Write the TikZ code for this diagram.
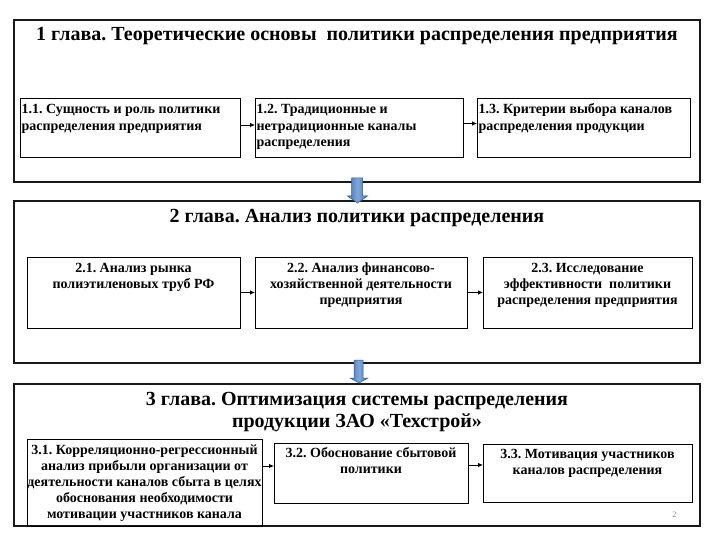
\documentclass[tikz,border=0pt]{standalone}
\usepackage{fontspec}
\setmainfont{Liberation Serif}
\usetikzlibrary{arrows.meta,calc}
\frenchspacing
\definecolor{arrblue}{HTML}{4375B6}
\definecolor{arrlight}{HTML}{7FA7DA}
\definecolor{arrdark}{HTML}{2F5A8E}
\newcommand\cbx[4]{\makebox[#1][c]{\parbox[c][#2][t]{\dimexpr#1+60pt\relax}{\centering\rule{0pt}{#3}#4}}}
\newcommand\lbx[4]{\makebox[#1][l]{\hspace{1.5pt}\parbox[c][#2][t]{\dimexpr#1+60pt\relax}{\raggedright\rule{0pt}{#3}#4}}}
\begin{document}
\begin{tikzpicture}[x=1pt,y=-1pt,
  chapbox/.style={draw=black!90, line width=1.1pt, inner sep=0pt, outer sep=0pt, anchor=north west,
    font=\fontsize{20}{22}\selectfont\bfseries},
  subbox/.style={draw=black, line width=0.9pt, inner sep=0pt, outer sep=0pt, anchor=north west,
    font=\fontsize{14}{16.3}\selectfont\bfseries},
  smallarr/.style={draw=black, line width=0.8pt, -{Latex[length=5pt,width=4.5pt]}},
  bigarr/.style={draw=arrdark, line width=0.5pt, left color=arrblue, right color=arrblue, middle color=arrlight},
  pagenum/.style={font=\fontsize{8.5}{10}\selectfont, text=black!45, inner sep=0pt}]
\useasboundingbox (0,0) rectangle (720,540);
% chapter 1
\node[chapbox] (c1) at (14,20) {\cbx{686pt}{162pt}{21pt}{1 глава. Теоретические основы\ \ политики распределения предприятия}};
\node[subbox] (s11) at (20,98) {\lbx{220pt}{59pt}{16pt}{1.1. Сущность и роль политики\\распределения предприятия}};
\node[subbox] (s12) at (255,98) {\lbx{208pt}{59pt}{16pt}{1.2. Традиционные и\\нетрадиционные каналы\\распределения}};
\node[subbox] (s13) at (477,98) {\lbx{213pt}{59pt}{16pt}{1.3. Критерии выбора каналов\\распределения продукции}};
% chapter 2
\node[chapbox] (c2) at (14,201) {\cbx{686pt}{162pt}{21pt}{2 глава. Анализ политики распределения}};
\node[subbox] (s21) at (27,257) {\cbx{213pt}{71pt}{15pt}{2.1. Анализ рынка\\полиэтиленовых труб РФ}};
\node[subbox] (s22) at (255,257) {\cbx{212pt}{71pt}{15pt}{2.2. Анализ финансово-\\хозяйственной деятельности\\предприятия}};
\node[subbox] (s23) at (483,257) {\cbx{209pt}{71pt}{15pt}{2.3. Исследование\\эффективности\ \ политики\\распределения предприятия}};
% chapter 3
\node[chapbox] (c3) at (14,384) {\cbx{686pt}{142pt}{21pt}{3 глава. Оптимизация системы распределения\\продукции ЗАО «Техстрой»}};
\node[subbox, font=\fontsize{14}{16}\selectfont\bfseries] (s31) at (27,439) {\cbx{235pt}{87pt}{15pt}{3.1. Корреляционно-регрессионный\\анализ прибыли организации от\\деятельности каналов сбыта в целях\\обоснования необходимости\\мотивации участников канала}};
\node[subbox] (s32) at (274,443) {\cbx{194pt}{60pt}{14pt}{3.2. Обоснование сбытовой\\политики}};
\node[subbox] (s33) at (483,444) {\cbx{209pt}{58pt}{14pt}{3.3. Мотивация участников\\каналов распределения}};
\node[pagenum, anchor=base] (pg) at (674.5,517) {2};
% small arrows
\draw[smallarr] ([yshift=2.5pt]s11.east) -- ([yshift=2.5pt]s12.west);
\draw[smallarr] ([yshift=4pt]s12.east) -- ([yshift=4pt]s13.west);
\draw[smallarr] (s21.east) -- (s22.west);
\draw[smallarr] (s22.east) -- (s23.west);
\draw[smallarr] ([yshift=7pt]s31.east |- s32.west) -- ([yshift=7pt]s32.west);
\draw[smallarr] ([yshift=8pt]s32.east) -- ([yshift=8pt]s33.west);
% big arrows between chapters
\shade[bigarr] ($(c1.south)+(-5.5,-4)$) -- ($(c1.south)+(5.5,-4)$) -- ($(c2.north)+(5.5,-5)$) -- ($(c2.north)+(10.5,-5)$) -- ($(c2.north)+(0.5,2)$) -- ($(c2.north)+(-9.5,-5)$) -- ($(c2.north)+(-5.5,-5)$) -- cycle;
\shade[bigarr] ($(c2.south)+(-3,-3)$) -- ($(c2.south)+(6,-3)$) -- ($(c3.north)+(6,-6)$) -- ($(c3.north)+(11,-6)$) -- ($(c3.north)+(2,-1)$) -- ($(c3.north)+(-7,-6)$) -- ($(c3.north)+(-3,-6)$) -- cycle;
\end{tikzpicture}
\end{document}
